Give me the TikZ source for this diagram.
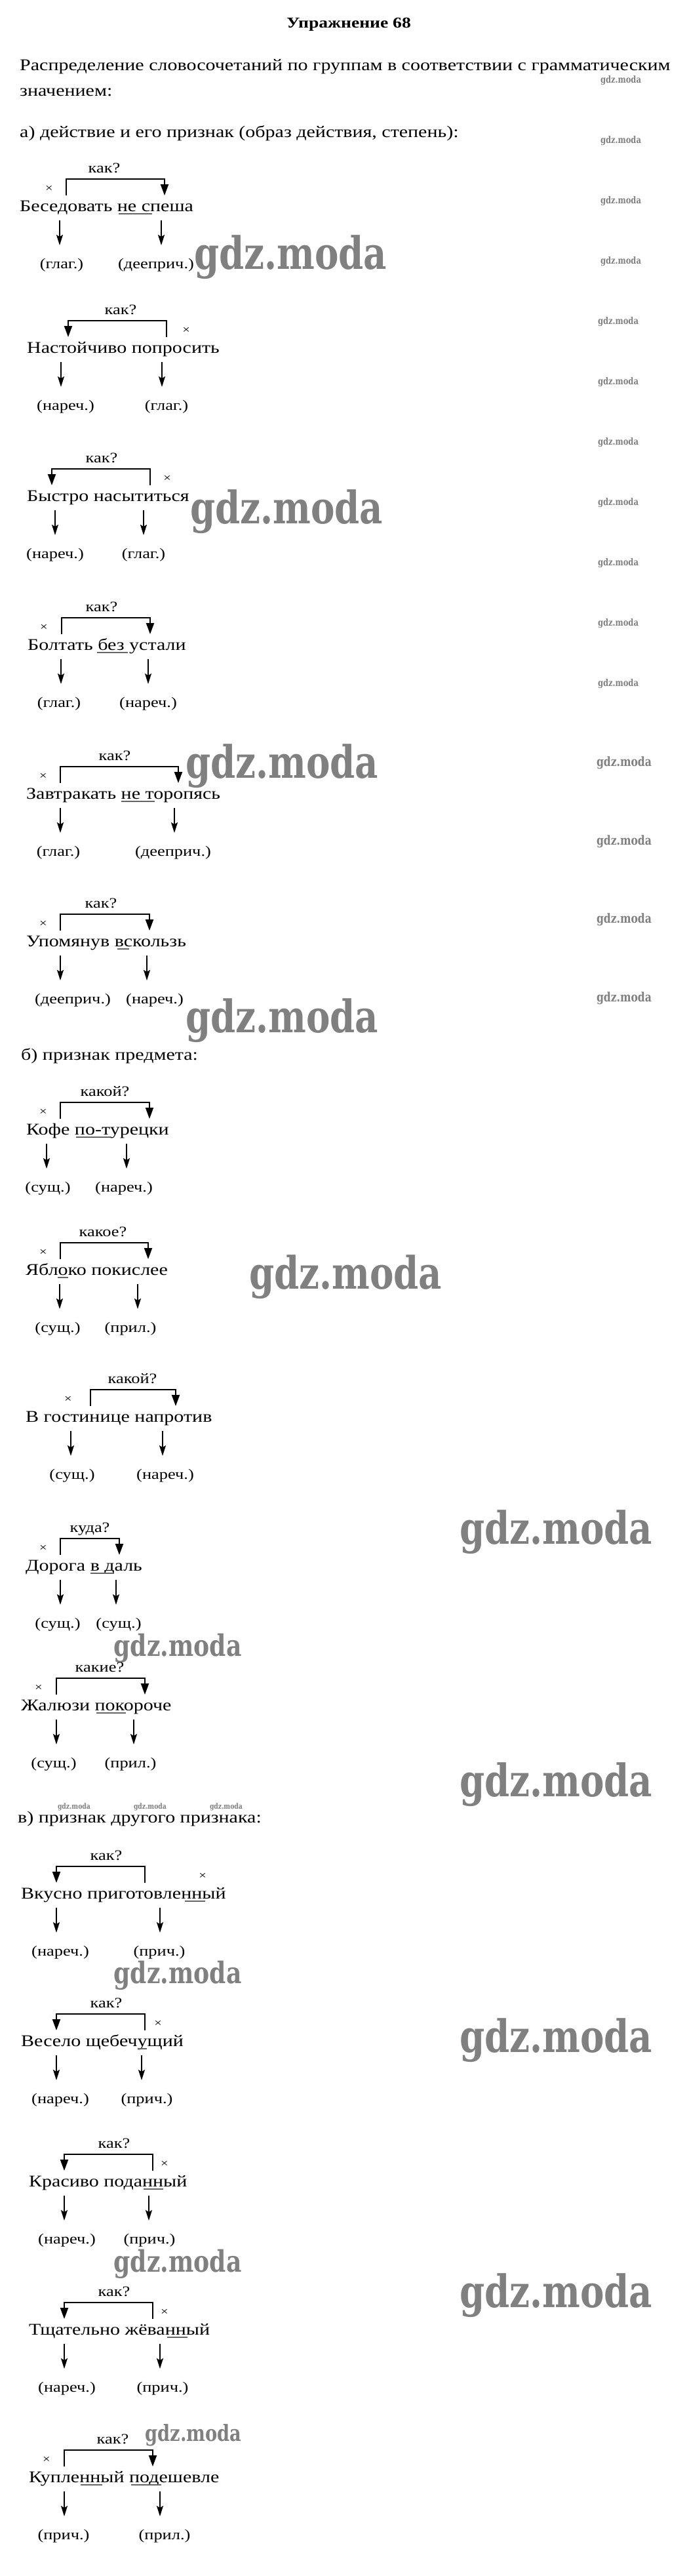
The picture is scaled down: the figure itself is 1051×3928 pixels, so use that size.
\documentclass[tikz,border=0pt]{standalone}
\usepackage{fontspec}
\setmainfont{Liberation Serif}[FakeStretch=1.2]
\newfontfamily\wmfont{DejaVu Serif}[FakeStretch=0.8]
\usepackage{graphicx}
\usetikzlibrary{arrows.meta}

\newcommand\mainsz{\fontsize{25}{30}\selectfont}
\newcommand\labsz{\fontsize{22}{26}\selectfont}

\tikzset{
  phrase/.style={font=\mainsz, anchor=base west, inner sep=0pt},
  qlab/.style={font=\labsz, anchor=base, inner sep=0pt},
  lab/.style={font=\labsz, anchor=base, inner sep=0pt},
  crs/.style={font=\fontsize{17}{20}\selectfont, inner sep=0pt},
  brkarr/.style={line width=2pt, -{Triangle[length=17pt,width=12pt]}},
  darr/.style={line width=1.6pt, -{Stealth[length=16pt,width=10pt,inset=3pt]}},
  uline/.style={line width=1.2pt, black!60},
  wmk/.style={text=black!50, inner sep=0pt},
}

% #1 id, #2 T, #3 left x, #4 phrase, #5 q x, #6 q text, #7 xL, #8 xR, #9 arrow side
\newcommand\dgA[9]{%
  \node[phrase] (#1p) at (#3,#2+9) {#4};
  \node[qlab] (#1q) at (#5,#2-50) {#6};
  \coordinate (#1L) at (#7,#2-15);
  \coordinate (#1R) at (#8,#2-15);
  \ifx l#9
    \draw[brkarr] (#1R) -- ++(0,-25) -| (#1L);
  \else
    \draw[brkarr] (#1L) -- ++(0,-25) -| (#1R);
  \fi
}
% #1 id, #2 T, #3 cross x, #4 a1, #5 a2, #6 l1x, #7 l1, #8 l2x, #9 l2
\newcommand\dgB[9]{%
  \node[crs] (#1x) at (#3,#2-25) {×};
  \coordinate (#1s) at (#4,#2+23);
  \coordinate (#1e) at (#4,#2+61);
  \coordinate (#1t) at (#5,#2+23);
  \coordinate (#1f) at (#5,#2+61);
  \draw[darr] (#1s) -- (#1e);
  \draw[darr] (#1t) -- (#1f);
  \node[lab] (#1a) at (#6,#2+96) {#7};
  \node[lab] (#1b) at (#8,#2+96) {#9};
}
\newcommand\undl[3]{\draw[uline] (#2,#1+13) -- (#3,#1+13);}
\newcommand\wm[4]{\node[wmk] (#1) at (#2,#3) {\resizebox{#4pt}{!}{\wmfont\bfseries gdz.moda}};}

\begin{document}
\begin{tikzpicture}[x=1pt,y=-1pt]
\useasboundingbox (0,0) rectangle (1051,3928);
\fill[white] (0,0) rectangle (1051,3928);

% watermarks
\wm{w1}{443}{392}{294}
\wm{w2}{437}{780}{294}
\wm{w3}{430}{1168}{294}
\wm{w4}{430}{1556}{294}
\wm{w5}{527}{1947}{294}
\wm{w6}{848}{2336}{294}
\wm{w7}{848}{2721}{294}
\wm{w8}{848}{3111}{294}
\wm{w9}{848}{3500}{294}
\wm{w10}{271}{2513}{195}
\wm{w11}{271}{3012}{195}
\wm{w12}{271}{3452}{195}
\wm{w13}{295}{3713}{147}
\wm{w14}{113}{2755}{50}
\wm{w15}{229}{2755}{50}
\wm{w16}{345}{2755}{50}
\wm{s0}{947}{123}{62}
\wm{s1}{947}{215}{62}
\wm{s2}{947}{307}{62}
\wm{s3}{947}{399}{62}
\wm{s4}{943}{491}{62}
\wm{s5}{943}{583}{62}
\wm{s6}{943}{675}{62}
\wm{s7}{943}{767}{62}
\wm{s8}{943}{859}{62}
\wm{s9}{943}{951}{62}
\wm{s10}{943}{1043}{62}
\wm{m1}{952}{1163}{84}
\wm{m2}{952}{1283}{84}
\wm{m3}{952}{1402}{84}
\wm{m4}{952}{1522}{84}

% headings
\node[font=\fontsize{23}{28}\selectfont\bfseries, anchor=base, inner sep=0pt] (title) at (532,42) {Упражнение 68};
\node[phrase] (par1) at (30,107) {Распределение словосочетаний по группам в соответствии с грамматическим};
\node[phrase] (par2) at (30,146) {значением:};
\node[phrase] (ha) at (30,209) {а) действие и его признак (образ действия, степень):};
\node[phrase] (hb) at (32,1616) {б) признак предмета:};
\node[phrase] (hc) at (27,2779) {в) признак другого признака:};

% diagrams
\dgA{da}{313}{30}{Беседовать не спеша}{159}{как?}{101}{251}{r}
\dgB{da}{313}{75}{91}{246}{94}{(глаг.)}{238}{(дееприч.)}
\undl{313}{181}{232}

\dgA{db}{529}{41}{Настойчиво попросить}{184}{как?}{104}{254}{l}
\dgB{db}{529}{284}{93}{247}{100}{(нареч.)}{254}{(глаг.)}

\dgA{dc}{755}{41}{Быстро насытиться}{155}{как?}{79}{229}{l}
\dgB{dc}{755}{255}{84}{219}{84}{(нареч.)}{219}{(глаг.)}

\dgA{dd}{982}{42}{Болтать без устали}{155}{как?}{94}{229}{r}
\dgB{dd}{982}{67}{93}{226}{90}{(глаг.)}{226}{(нареч.)}
\undl{982}{148}{195}

\dgA{de}{1209}{40}{Завтракать не торопясь}{175}{как?}{92}{272}{r}
\dgB{de}{1209}{66}{92}{266}{89}{(глаг.)}{264}{(дееприч.)}
\undl{1209}{185}{236}

\dgA{df}{1434}{40}{Упомянув вскользь}{154}{как?}{92}{228}{r}
\dgB{df}{1434}{66}{92}{224}{111}{(дееприч.)}{236}{(нареч.)}
\undl{1434}{179}{197}

\dgA{dg}{1721}{40}{Кофе по-турецки}{160}{какой?}{92}{228}{r}
\dgB{dg}{1721}{66}{71}{193}{73}{(сущ.)}{189}{(нареч.)}
\undl{1721}{116}{168}

\dgA{dh}{1935}{39}{Яблоко покислее}{157}{какое?}{92}{226}{r}
\dgB{dh}{1935}{66}{91}{210}{88}{(сущ.)}{199}{(прил.)}
\undl{1935}{88}{104}

\dgA{di}{2159}{39}{В гостинице напротив}{202}{какой?}{138}{268}{r}
\dgB{di}{2159}{104}{108}{248}{110}{(сущ.)}{252}{(нареч.)}

\dgA{dj}{2386}{39}{Дорога в даль}{137}{куда?}{92}{182}{r}
\dgB{dj}{2386}{66}{92}{177}{88}{(сущ.)}{181}{(сущ.)}
\undl{2386}{138}{174}

\dgA{dk}{2599}{32}{Жалюзи покороче}{152}{какие?}{86}{221}{r}
\dgB{dk}{2599}{59}{86}{204}{82}{(сущ.)}{199}{(прил.)}
\undl{2599}{147}{192}

\dgA{dm}{2886}{32}{Вкусно приготовленный}{162}{как?}{86}{221}{l}
\dgB{dm}{2886}{309}{86}{244}{92}{(нареч.)}{243}{(прич.)}
\undl{2886}{282}{313}

\dgA{dn}{3111}{32}{Весело щебечущий}{162}{как?}{86}{221}{l}
\dgB{dn}{3111}{241}{86}{216}{92}{(нареч.)}{224}{(прич.)}
\undl{3111}{210}{224}

\dgA{do}{3325}{44}{Красиво поданный}{174}{как?}{98}{233}{l}
\dgB{do}{3325}{251}{98}{227}{102}{(нареч.)}{228}{(прич.)}
\undl{3325}{219}{249}

\dgA{dp}{3551}{44}{Тщательно жёванный}{174}{как?}{98}{233}{l}
\dgB{dp}{3551}{251}{98}{244}{102}{(нареч.)}{248}{(прич.)}
\undl{3551}{255}{286}

\dgA{dq}{3776}{44}{Купленный подешевле}{172}{как?}{98}{233}{r}
\dgB{dq}{3776}{71}{98}{244}{97}{(прич.)}{251}{(прил.)}
\undl{3776}{123}{156}
\undl{3776}{200}{246}
\end{tikzpicture}
\end{document}
